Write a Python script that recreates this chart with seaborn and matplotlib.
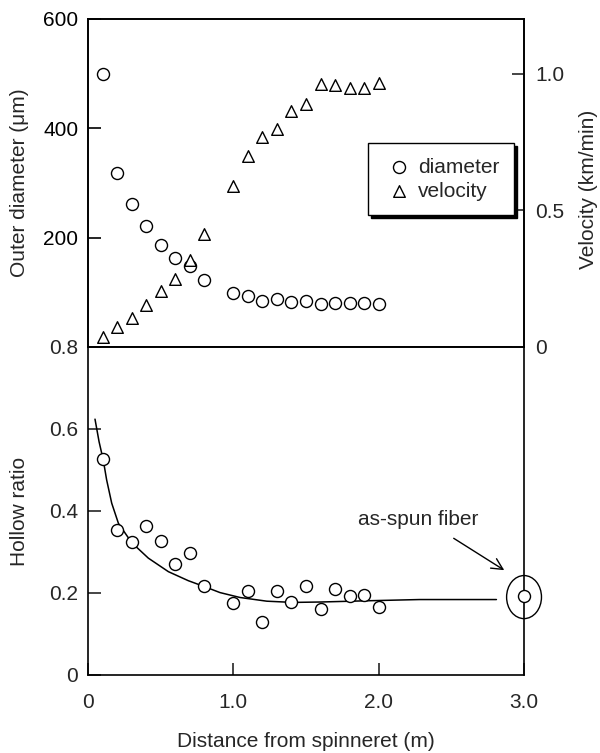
import numpy as np
import pandas as pd
import matplotlib
matplotlib.use("Agg")
import matplotlib.pyplot as plt
from matplotlib.patches import Ellipse
import seaborn as sns

# distance from spinneret (m), 0.9 m was not measured
distance = [0.1, 0.2, 0.3, 0.4, 0.5, 0.6, 0.7, 0.8, 1.0, 1.1, 1.2, 1.3, 1.4,
            1.5, 1.6, 1.7, 1.8, 1.9, 2.0]
diameter = [500, 319, 261, 222, 187, 163, 148, 122, 99, 94, 85, 88, 83, 84,
            78, 81, 81, 81, 78]
velocity = [0.038, 0.074, 0.105, 0.153, 0.204, 0.250, 0.320, 0.415, 0.590,
            0.700, 0.769, 0.796, 0.865, 0.889, 0.962, 0.959, 0.946, 0.946, 0.966]
hollow = [0.527, 0.353, 0.324, 0.363, 0.327, 0.270, 0.298, 0.216, 0.176,
          0.206, 0.129, 0.206, 0.177, 0.218, 0.160, 0.210, 0.193, 0.195, 0.166]

# as-spun fiber
spun_x = [3.0]
spun_hollow = [0.193]

# smooth guide curve through the hollow ratio data
curve_x = [0.048, 0.076, 0.105, 0.128, 0.163, 0.209, 0.30, 0.415, 0.553, 0.69,
           0.805, 0.908, 1.046, 1.23, 1.41, 1.60, 1.92, 2.28, 2.81]
curve_y = [0.624, 0.569, 0.524, 0.476, 0.419, 0.370, 0.323, 0.285, 0.252, 0.230,
           0.215, 0.201, 0.189, 0.180, 0.177, 0.178, 0.181, 0.184, 0.184]

x_ticks = [0, 1.0, 2.0, 3.0]
x_ticklabels = ["0", "1.0", "2.0", "3.0"]
diam_ticks = [200, 400, 600]
diam_ticklabels = ["200", "400", "600"]
vel_ticks = [0, 0.5, 1.0]
vel_ticklabels = ["0", "0.5", "1.0"]
hollow_ticks = [0, 0.2, 0.4, 0.6, 0.8]
hollow_ticklabels = ["0", "0.2", "0.4", "0.6", "0.8"]

FS = 15

sns.set_theme(style="ticks")
plt.rcParams['font.family'] = ['Liberation Sans', 'DejaVu Sans']
plt.rcParams['font.size'] = FS
plt.rcParams['axes.linewidth'] = 1.2

df = pd.DataFrame({'distance': distance, 'diameter': diameter,
                   'velocity': velocity, 'hollow': hollow})
curve = pd.DataFrame({'x': curve_x, 'y': curve_y})
spun = pd.DataFrame({'x': spun_x, 'y': spun_hollow})

fig = plt.figure(figsize=(6, 7.53), dpi=100)
ax_top = fig.add_axes([0.1467, 0.5392, 0.7267, 0.4356])
ax_bot = fig.add_axes([0.1467, 0.1036, 0.7267, 0.4356])
ax_vel = ax_top.twinx()

mk = dict(facecolor='white', edgecolor='black', linewidth=1.0, zorder=3)

# top panel: diameter and velocity
sns.scatterplot(data=df, x='distance', y='diameter', marker='o', s=75,
                ax=ax_top, label='diameter', **mk)
sns.scatterplot(data=df, x='distance', y='velocity', marker='^', s=70,
                ax=ax_vel, label='velocity', **mk)

# bottom panel: hollow ratio
sns.lineplot(data=curve, x='x', y='y', color='black', linewidth=1.1, ax=ax_bot)
sns.scatterplot(data=df, x='distance', y='hollow', marker='o', s=75,
                ax=ax_bot, **mk)
sns.scatterplot(data=spun, x='x', y='y', marker='o', s=75, ax=ax_bot, **mk)
ax_bot.collections[-1].set_clip_on(False)

ax_bot.add_patch(Ellipse((3.0, 0.19), 0.24, 0.105, fill=False,
                         edgecolor='black', linewidth=1.0, clip_on=False))
ax_bot.annotate("", xy=(2.88, 0.252), xytext=(2.50, 0.337),
                arrowprops=dict(arrowstyle='->', color='black', lw=1.0,
                                mutation_scale=20))
ax_bot.text(2.27, 0.38, "as-spun fiber", ha='center', va='center', fontsize=FS)

for a in (ax_top, ax_vel, ax_bot):
    leg = a.get_legend()
    if leg is not None:
        leg.remove()

# limits and ticks
for a in (ax_top, ax_bot):
    a.set_xlim(0, 3.0)
ax_top.set_ylim(0, 600)
ax_vel.set_ylim(0, 1.2)
ax_bot.set_ylim(0, 0.8)

ax_top.set_yticks(diam_ticks)
ax_top.set_yticklabels(diam_ticklabels)
ax_top.tick_params(axis='x', bottom=False, labelbottom=False)
ax_top.set_xlabel("")
ax_top.tick_params(axis='y', direction='in', length=9, width=1.2, pad=7,
                   labelsize=FS, colors='black')

ax_vel.set_yticks(vel_ticks)
ax_vel.set_yticklabels(vel_ticklabels)
ax_vel.tick_params(axis='y', direction='in', length=9, width=1.2, pad=8,
                   labelsize=FS)

ax_bot.set_xticks(x_ticks)
ax_bot.set_xticklabels(x_ticklabels)
ax_bot.set_yticks(hollow_ticks)
ax_bot.set_yticklabels(hollow_ticklabels)
ax_bot.tick_params(direction='in', length=9, width=1.2, labelsize=FS)
ax_bot.tick_params(axis='x', pad=13)
ax_bot.tick_params(axis='y', pad=7)

for a in (ax_top, ax_vel, ax_bot):
    for sp in a.spines.values():
        sp.set_visible(True)
        sp.set_linewidth(1.2)
        sp.set_color('black')

# axis titles placed in figure coordinates
ax_top.set_ylabel("")
ax_vel.set_ylabel("")
ax_bot.set_ylabel("")
ax_bot.set_xlabel("")
fig.text(0.032, 0.757, "Outer diameter (\u03bcm)", rotation=90,
         ha='center', va='center', fontsize=FS)
fig.text(0.032, 0.321, "Hollow ratio", rotation=90,
         ha='center', va='center', fontsize=FS)
fig.text(0.981, 0.748, "Velocity (km/min)", rotation=90,
         ha='center', va='center', fontsize=FS)
fig.text(0.51, 0.015, "Distance from spinneret (m)",
         ha='center', va='center', fontsize=FS)

# combined legend with hard shadow
h1, l1 = ax_top.get_legend_handles_labels()
h2, l2 = ax_vel.get_legend_handles_labels()
ax_vel.legend(h1 + h2, l1 + l2, loc='upper left', bbox_to_anchor=(0.642, 0.622),
              frameon=True, fancybox=False, framealpha=1, edgecolor='black',
              shadow={'color': 'black', 'alpha': 1}, borderpad=0.7,
              handlelength=1.6, handletextpad=0.1, labelspacing=0.25,
              fontsize=FS, borderaxespad=0)
ax_vel.get_legend().get_frame().set_linewidth(1.0)

fig.savefig("out.png", dpi=100)
